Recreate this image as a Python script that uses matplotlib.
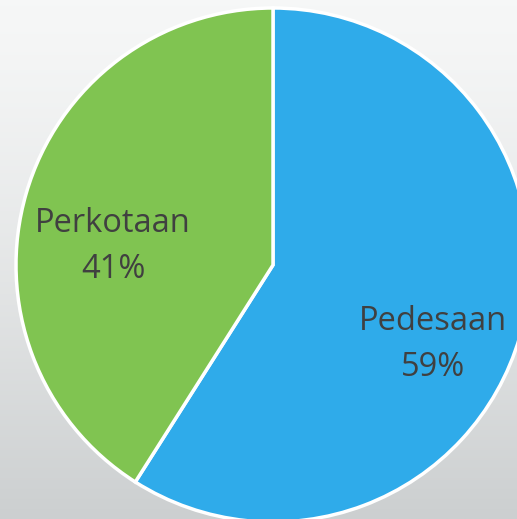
import numpy as np
import matplotlib
matplotlib.use('Agg')
import matplotlib.pyplot as plt

# data
labels = ['Pedesaan', 'Perkotaan']
values = [59, 41]
colors = ['#2FABEA', '#80C451']
label_pos = [(433, 321), (113, 223)]   # name centres in pixel coords (from top)

W, H = 517, 519
fig = plt.figure(figsize=(W / 100, H / 100), dpi=100)
ax = fig.add_axes([0, 0, 1, 1])

# background gradient, light at top, grey at bottom
grad = np.linspace(0, 1, 256).reshape(-1, 1)
top = np.array([0.965, 0.969, 0.969])
bot = np.array([0.800, 0.812, 0.816])
img = top + (bot - top) * grad[..., None] ** 1.3
ax.imshow(img, extent=[0, W, 0, H], origin='upper', aspect='auto', zorder=0)

ax.pie(values, colors=colors, startangle=90, counterclock=False,
       center=(273, H - 265), radius=257, frame=True,
       wedgeprops=dict(edgecolor='white', linewidth=2.5, zorder=2))
ax.set_xlim(0, W)
ax.set_ylim(0, H)
ax.set_aspect('auto')
ax.axis('off')

for lab, v, (x, y) in zip(labels, values, label_pos):
    ax.text(x, H - y, lab, ha='center', va='center',
            fontsize=23.5, color='#404040', family='Open Sans', zorder=3)
    ax.text(x, H - y - 47, '%d%%' % v, ha='center', va='center',
            fontsize=23.5, color='#404040', family='Open Sans', zorder=3)

plt.savefig('out.png', dpi=100)
